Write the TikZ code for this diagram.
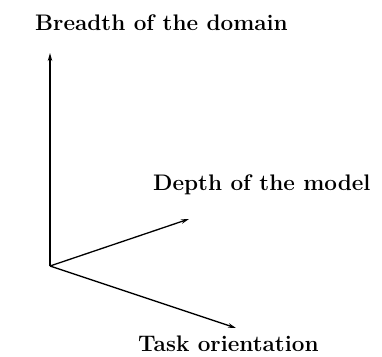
\documentclass[tikz,border=0pt]{standalone}
\usetikzlibrary{arrows.meta}
\begin{document}
\begin{tikzpicture}[x=1pt,y=-1pt,
  axis/.style={line width=1.3pt,-{Stealth[length=8pt,width=4.5pt]}},
  lbl/.style={font=\fontsize{22.5}{26}\selectfont\bfseries,inner sep=0pt,anchor=base west}]
\useasboundingbox (0,0) rectangle (382,356);
\coordinate (o) at (50,266);
\coordinate (b) at (50,53);
\coordinate (d) at (189,219);
\coordinate (t) at (236,328);
\draw[axis] (o) -- (b);
\draw[axis] (o) -- (d);
\draw[axis] (o) -- (t);
\node[lbl] (bl) at (35,30) {Breadth of the domain};
\node[lbl] (dl) at (153,190) {Depth of the model};
\node[lbl] (tl) at (138,351) {Task orientation};
\end{tikzpicture}
\end{document}
